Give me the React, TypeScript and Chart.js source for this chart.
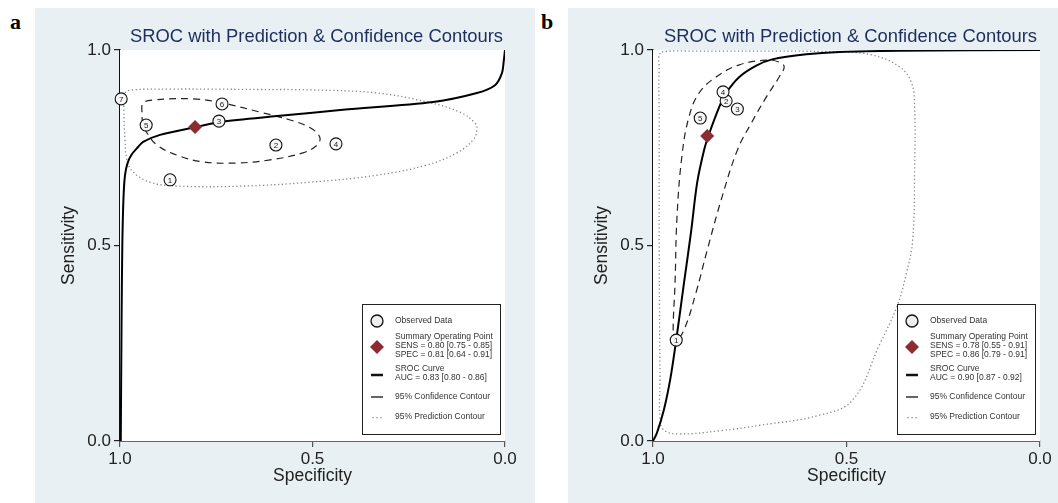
import React, { useEffect, useRef } from 'react';
import { Chart, registerables } from 'chart.js';

Chart.register(...registerables);

const FONT = "'Liberation Sans', Arial, Helvetica, sans-serif";
const TITLE = 'SROC with Prediction & Confidence Contours';
const X_LABEL = 'Specificity';
const Y_LABEL = 'Sensitivity';
const AXIS_TICKS = [0, 0.5, 1];
const PANEL_BG = '#e8f0f3';

// ---------- Panel a ----------
const A_STUDY_IDS = ['1', '2', '3', '4', '5', '6', '7'];
const A_STUDY_SPEC = [0.870, 0.595, 0.743, 0.439, 0.932, 0.735, 0.997];
const A_STUDY_SENS = [0.668, 0.757, 0.818, 0.760, 0.808, 0.862, 0.875];
const A_SUMMARY_SPEC = [0.805];
const A_SUMMARY_SENS = [0.803];
const A_SROC_SPEC = [0.998, 0.996, 0.994, 0.991, 0.987, 0.980, 0.970, 0.955, 0.940, 0.896, 0.803, 0.740, 0.592, 0.421, 0.187, 0.073, 0.026, 0.008, 0.003, 0.0];
const A_SROC_SENS = [0.0, 0.300, 0.500, 0.620, 0.680, 0.712, 0.732, 0.750, 0.765, 0.783, 0.803, 0.816, 0.831, 0.847, 0.867, 0.890, 0.910, 0.941, 0.974, 1.0];
const A_CONF_SPEC = [0.943, 0.940, 0.914, 0.810, 0.732, 0.636, 0.558, 0.506, 0.481, 0.488, 0.525, 0.610, 0.696, 0.784, 0.852, 0.904, 0.930, 0.940];
const A_CONF_SENS = [0.841, 0.864, 0.872, 0.875, 0.864, 0.841, 0.821, 0.801, 0.777, 0.757, 0.737, 0.719, 0.711, 0.714, 0.731, 0.757, 0.788, 0.808];
const A_PRED_SPEC = [0.987, 0.966, 0.870, 0.766, 0.640, 0.506, 0.332, 0.203, 0.117, 0.078, 0.073, 0.083, 0.125, 0.203, 0.332, 0.506, 0.681, 0.852, 0.922, 0.966, 0.982, 0.987, 0.990];
const A_PRED_SENS = [0.890, 0.898, 0.900, 0.900, 0.899, 0.898, 0.890, 0.867, 0.841, 0.813, 0.795, 0.770, 0.737, 0.706, 0.680, 0.662, 0.652, 0.652, 0.662, 0.688, 0.719, 0.770, 0.854];
const A_LEGEND = [
  'Observed Data',
  'Summary Operating Point',
  'SENS = 0.80 [0.75 - 0.85]',
  'SPEC = 0.81 [0.64 - 0.91]',
  'SROC Curve',
  'AUC = 0.83 [0.80 - 0.86]',
  '95% Confidence Contour',
  '95% Prediction Contour',
];

// ---------- Panel b ----------
const B_STUDY_IDS = ['1', '2', '3', '4', '5'];
const B_STUDY_SPEC = [0.940, 0.811, 0.782, 0.819, 0.878];
const B_STUDY_SENS = [0.258, 0.870, 0.849, 0.893, 0.826];
const B_SUMMARY_SPEC = [0.86];
const B_SUMMARY_SENS = [0.78];
const B_SROC_SPEC = [1.0, 0.990, 0.972, 0.955, 0.940, 0.920, 0.902, 0.886, 0.868, 0.857, 0.829, 0.811, 0.777, 0.733, 0.692, 0.604, 0.518, 0.363, 0.0];
const B_SROC_SENS = [0.0, 0.020, 0.079, 0.160, 0.258, 0.404, 0.532, 0.660, 0.744, 0.780, 0.854, 0.890, 0.931, 0.960, 0.976, 0.989, 0.995, 0.998, 1.0];
const B_CONF_SPEC = [0.943, 0.948, 0.943, 0.938, 0.925, 0.907, 0.881, 0.837, 0.777, 0.707, 0.674, 0.661, 0.674, 0.707, 0.746, 0.782, 0.824, 0.860, 0.889, 0.920];
const B_CONF_SENS = [0.253, 0.276, 0.404, 0.573, 0.731, 0.829, 0.890, 0.931, 0.962, 0.974, 0.969, 0.957, 0.931, 0.880, 0.813, 0.744, 0.616, 0.488, 0.379, 0.284];
const B_PRED_SPEC = [0.977, 0.881, 0.674, 0.518, 0.433, 0.363, 0.332, 0.324, 0.324, 0.329, 0.345, 0.370, 0.415, 0.484, 0.570, 0.718, 0.829, 0.933, 0.972, 0.982, 0.982, 0.984, 0.984, 0.984];
const B_PRED_SENS = [0.995, 0.997, 0.997, 0.995, 0.987, 0.957, 0.916, 0.854, 0.693, 0.514, 0.430, 0.343, 0.246, 0.105, 0.066, 0.041, 0.026, 0.018, 0.028, 0.059, 0.156, 0.488, 0.821, 0.949];
const B_LEGEND = [
  'Observed Data',
  'Summary Operating Point',
  'SENS = 0.78 [0.55 - 0.91]',
  'SPEC = 0.86 [0.79 - 0.91]',
  'SROC Curve',
  'AUC = 0.90 [0.87 - 0.92]',
  '95% Confidence Contour',
  '95% Prediction Contour',
];

type PanelData = {
  ids: string[];
  studySpec: number[];
  studySens: number[];
  sumSpec: number[];
  sumSens: number[];
  srocSpec: number[];
  srocSens: number[];
  confSpec: number[];
  confSens: number[];
  predSpec: number[];
  predSens: number[];
  legend: string[];
};

const PANEL_A: PanelData = {
  ids: A_STUDY_IDS, studySpec: A_STUDY_SPEC, studySens: A_STUDY_SENS,
  sumSpec: A_SUMMARY_SPEC, sumSens: A_SUMMARY_SENS,
  srocSpec: A_SROC_SPEC, srocSens: A_SROC_SENS,
  confSpec: A_CONF_SPEC, confSens: A_CONF_SENS,
  predSpec: A_PRED_SPEC, predSens: A_PRED_SENS,
  legend: A_LEGEND,
};
const PANEL_B: PanelData = {
  ids: B_STUDY_IDS, studySpec: B_STUDY_SPEC, studySens: B_STUDY_SENS,
  sumSpec: B_SUMMARY_SPEC, sumSens: B_SUMMARY_SENS,
  srocSpec: B_SROC_SPEC, srocSens: B_SROC_SENS,
  confSpec: B_CONF_SPEC, confSens: B_CONF_SENS,
  predSpec: B_PRED_SPEC, predSens: B_PRED_SENS,
  legend: B_LEGEND,
};

const zip = (xs: number[], ys: number[]) => xs.map((x, i) => ({ x, y: ys[i] }));

function drawLegend(ctx: CanvasRenderingContext2D, area: any, texts: string[]) {
  const W = 138, H = 130;
  const L = Math.round(area.right - 5 - W);
  const T = Math.round(area.bottom - 7 - H);
  ctx.save();
  ctx.fillStyle = '#ffffff';
  ctx.fillRect(L, T, W, H);
  ctx.strokeStyle = '#222';
  ctx.lineWidth = 1;
  ctx.setLineDash([]);
  ctx.strokeRect(L + 0.5, T + 0.5, W, H);
  const mx = L + 15;
  const tx = L + 33;
  // circle
  ctx.beginPath();
  ctx.arc(mx, T + 17, 6, 0, Math.PI * 2);
  ctx.fillStyle = '#eeeeee';
  ctx.fill();
  ctx.strokeStyle = '#111';
  ctx.lineWidth = 1.3;
  ctx.stroke();
  // diamond
  ctx.beginPath();
  ctx.moveTo(mx, T + 43 - 7);
  ctx.lineTo(mx + 7, T + 43);
  ctx.lineTo(mx, T + 43 + 7);
  ctx.lineTo(mx - 7, T + 43);
  ctx.closePath();
  ctx.fillStyle = '#8b2c30';
  ctx.fill();
  // SROC line
  ctx.strokeStyle = '#111';
  ctx.lineWidth = 2.5;
  ctx.beginPath();
  ctx.moveTo(mx - 6, T + 71);
  ctx.lineTo(mx + 6, T + 71);
  ctx.stroke();
  // conf line
  ctx.lineWidth = 1.3;
  ctx.beginPath();
  ctx.moveTo(mx - 6, T + 93);
  ctx.lineTo(mx + 6, T + 93);
  ctx.stroke();
  // pred dots
  ctx.fillStyle = '#888';
  for (let k = -1; k <= 1; k++) ctx.fillRect(mx + k * 4 - 0.6, T + 113, 1.3, 1.3);
  // texts
  ctx.fillStyle = '#333';
  ctx.font = `8.5px ${FONT}`;
  ctx.textAlign = 'left';
  ctx.textBaseline = 'middle';
  const ys = [17, 33, 42, 51, 65, 74, 93, 113];
  texts.forEach((t, i) => ctx.fillText(t, tx, T + ys[i]));
  ctx.restore();
}

function makeChart(canvas: HTMLCanvasElement, d: PanelData, rightPad: number) {
  const decor = {
    id: 'decor',
    afterDatasetsUpdate(chart: any) {
      chart.data.datasets.forEach((ds: any, i: number) => {
        if (ds.closedLoop) {
          const el = chart.getDatasetMeta(i).dataset;
          if (el) {
            el._loop = true;
            el._fullLoop = true;
          }
        }
      });
    },
    beforeDatasetsDraw(chart: any) {
      const { ctx, chartArea: a } = chart;
      ctx.save();
      ctx.fillStyle = '#ffffff';
      ctx.fillRect(a.left, a.top, a.right - a.left, a.bottom - a.top);
      ctx.restore();
    },
    afterDatasetsDraw(chart: any) {
      const { ctx } = chart;
      const meta = chart.getDatasetMeta(0);
      ctx.save();
      ctx.fillStyle = '#222';
      ctx.font = `8px ${FONT}`;
      ctx.textAlign = 'center';
      ctx.textBaseline = 'middle';
      meta.data.forEach((pt: any, j: number) => ctx.fillText(d.ids[j], pt.x, pt.y + 0.5));
      ctx.restore();
    },
    afterDraw(chart: any) {
      const { ctx, chartArea: a } = chart;
      drawLegend(ctx, a, d.legend);
      ctx.save();
      ctx.fillStyle = '#1c2d5e';
      ctx.font = `18.4px ${FONT}`;
      ctx.textAlign = 'center';
      ctx.textBaseline = 'alphabetic';
      ctx.fillText(TITLE, (a.left + a.right) / 2 + 4, a.top - 8);
      ctx.restore();
    },
  };

  return new Chart(canvas, {
    type: 'line',
    data: {
      datasets: [
        {
          label: 'Observed Data',
          data: zip(d.studySpec, d.studySens),
          showLine: false,
          pointStyle: 'circle',
          pointRadius: 6,
          pointBorderWidth: 1.1,
          pointBackgroundColor: '#f7f7f7',
          pointBorderColor: '#111',
          clip: false,
        } as any,
        {
          label: 'Summary Operating Point',
          data: zip(d.sumSpec, d.sumSens),
          showLine: false,
          pointStyle: 'rectRot',
          pointRadius: 7,
          pointBorderWidth: 0,
          pointBackgroundColor: '#8b2c30',
          pointBorderColor: '#8b2c30',
          clip: false,
        },
        {
          label: 'SROC Curve',
          data: zip(d.srocSpec, d.srocSens),
          borderColor: '#000',
          borderWidth: 2,
          pointRadius: 0,
          tension: 0.3,
          fill: false,
        },
        {
          label: '95% Confidence Contour',
          data: zip(d.confSpec, d.confSens),
          borderColor: '#222',
          borderWidth: 1.2,
          borderDash: [7, 5],
          pointRadius: 0,
          tension: 0.4,
          fill: false,
          closedLoop: true,
        } as any,
        {
          label: '95% Prediction Contour',
          data: zip(d.predSpec, d.predSens),
          borderColor: '#888',
          borderWidth: 1.3,
          borderDash: [1.3, 2.5],
          pointRadius: 0,
          tension: 0.4,
          fill: false,
          closedLoop: true,
        } as any,
      ],
    },
    options: {
      animation: false,
      responsive: false,
      maintainAspectRatio: false,
      devicePixelRatio: 1,
      events: [],
      layout: { padding: { top: 42, right: rightPad, left: 0, bottom: 0 } },
      plugins: {
        legend: { display: false },
        tooltip: { enabled: false },
        title: { display: false },
      },
      scales: {
        x: {
          type: 'linear',
          min: 0,
          max: 1,
          reverse: true,
          afterFit: (s: any) => { s.height = 62; },
          afterBuildTicks: (s: any) => { s.ticks = AXIS_TICKS.map((v) => ({ value: v })); },
          ticks: {
            callback: (v: any) => Number(v).toFixed(1),
            font: { family: FONT, size: 17 },
            color: '#222',
            padding: 2,
            maxRotation: 0,
            autoSkip: false,
          },
          grid: { drawOnChartArea: false, drawTicks: true, tickLength: 6, color: '#555', lineWidth: 1.2 },
          border: { display: true, color: '#666', width: 2 },
          title: {
            display: true,
            text: X_LABEL,
            font: { family: FONT, size: 17.5 },
            color: '#222',
            padding: { top: 0, bottom: 16 },
          },
        },
        y: {
          type: 'linear',
          min: 0,
          max: 1,
          afterFit: (s: any) => { s.width = 85; },
          afterBuildTicks: (s: any) => { s.ticks = AXIS_TICKS.map((v) => ({ value: v })); },
          ticks: {
            callback: (v: any) => Number(v).toFixed(1),
            font: { family: FONT, size: 17 },
            color: '#222',
            padding: 3,
            autoSkip: false,
          },
          grid: { drawOnChartArea: false, drawTicks: true, tickLength: 6, color: '#222', lineWidth: 1.2 },
          border: { display: true, color: '#111', width: 1.5 },
          title: {
            display: true,
            text: Y_LABEL,
            font: { family: FONT, size: 17.5 },
            color: '#222',
            padding: { top: 24, bottom: 0 },
          },
        },
      },
    } as any,
    plugins: [decor],
  });
}

export default function App() {
  const refA = useRef<HTMLCanvasElement>(null);
  const refB = useRef<HTMLCanvasElement>(null);

  useEffect(() => {
    document.body.style.overflow = 'hidden';
    const ca = makeChart(refA.current!, PANEL_A, 30);
    const cb = makeChart(refB.current!, PANEL_B, 18);
    return () => {
      ca.destroy();
      cb.destroy();
    };
  }, []);

  const letter: React.CSSProperties = {
    position: 'absolute',
    fontFamily: "'Liberation Serif', 'Times New Roman', serif",
    fontWeight: 'bold',
    fontSize: 22,
    lineHeight: '22px',
    color: '#000',
  };

  return (
    <div style={{ position: 'absolute', left: 0, top: 0, width: 1058, height: 503, overflow: 'hidden', background: '#fff' }}>
      <div style={{ position: 'absolute', left: 35, top: 8, width: 500, height: 495, background: PANEL_BG }}>
        <canvas ref={refA} width={500} height={495} style={{ display: 'block' }} />
      </div>
      <div style={{ position: 'absolute', left: 568, top: 8, width: 490, height: 495, background: PANEL_BG }}>
        <canvas ref={refB} width={490} height={495} style={{ display: 'block' }} />
      </div>
      <div style={{ ...letter, left: 10, top: 11 }}>a</div>
      <div style={{ ...letter, left: 541, top: 11 }}>b</div>
    </div>
  );
}
